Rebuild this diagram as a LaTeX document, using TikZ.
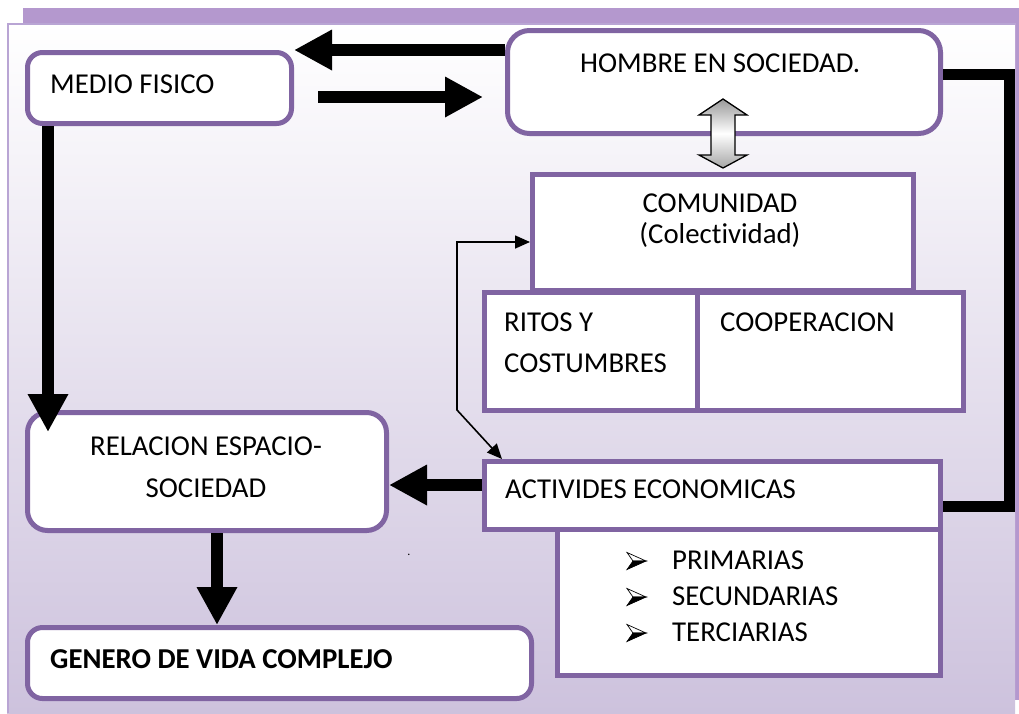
\documentclass[tikz,border=0pt]{standalone}
\usepackage{fontspec}
\setmainfont{Carlito}[Ligatures={NoCommon,NoContextual},Contextuals=NoAlternate]
\usetikzlibrary{arrows.meta,calc}
\definecolor{boxpurple}{RGB}{128,100,162}
\definecolor{barpurple}{RGB}{180,152,206}
\definecolor{bgbot}{RGB}{205,194,221}
\definecolor{framepurple}{RGB}{185,165,212}
\begin{document}
\begin{tikzpicture}[x=1pt,y=-1pt,
  rbox/.style={draw=boxpurple, line width=5pt, fill=white, inner sep=0pt, anchor=north west, rounded corners=18pt},
  sbox/.style={draw=boxpurple, line width=5pt, fill=white, inner sep=0pt, anchor=north west},
  txt/.style={font=\fontsize{28.8}{34}\selectfont, inner sep=0pt},
  blk/.style={line width=12pt, line cap=butt, -{Triangle[width=38pt,length=38pt]}},
  thin/.style={line width=1.6pt, {Triangle[width=13pt,length=15pt]}-{Triangle[width=13pt,length=15pt]}},
  arrbullet/.pic={
    \filldraw[fill=white, draw=black, line width=0.7pt, line join=miter] (0,-8.5) -- (19,0) -- (6,0) -- cycle;
    \filldraw[fill=black, draw=black, line width=0.7pt, line join=miter] (6,0) -- (19,0) -- (0,8.5) -- cycle;
  }
]
\useasboundingbox (0,0) rectangle (1019,713);
% frame and background
\fill[barpurple] (23,8) rectangle (1019,23);
\fill[barpurple] (1014,23) rectangle (1019,700);
\shade[top color=white, bottom color=bgbot] (7,23) rectangle (1015,713);
\draw[framepurple, line width=1.5pt] (7.75,713) -- (7.75,23.75) -- (1015,23.75);

% boxes
\node[rbox, rounded corners=15pt, minimum width=264pt, minimum height=71pt] (medio) at (25,50) {};
\node[rbox, rounded corners=22pt, minimum width=433pt, minimum height=103pt] (hombre) at (505,28) {};
\node[sbox, minimum width=381pt, minimum height=116pt] (comunidad) at (530,172) {};
\node[sbox, minimum width=213pt, minimum height=118pt] (ritos) at (482,290) {};
\node[sbox, minimum width=266pt, minimum height=118pt] (coop) at (695,290) {};
\node[rbox, rounded corners=20pt, minimum width=359pt, minimum height=118pt] (relacion) at (25,410) {};
\node[sbox, minimum width=456pt, minimum height=68pt] (activ) at (482,459) {};
\node[sbox, minimum width=383pt, minimum height=146pt] (sectores) at (555,527) {};
\node[rbox, rounded corners=15pt, minimum width=504pt, minimum height=71pt] (genero) at (25,625) {};

% texts
\node[txt, anchor=base west] (tmedio) at (50,93) {MEDIO FISICO};
\node[txt, anchor=base west] (thombre) at (580,72) {HOMBRE EN SOCIEDAD.};
\node[txt, anchor=base] (tcom) at (720,212) {COMUNIDAD};
\node[txt, anchor=base] (tcol) at (720,243) {(Colectividad)};
\node[txt, anchor=base west] (tritos) at (504,331) {RITOS Y};
\node[txt, anchor=base west] (tcost) at (504,372) {COSTUMBRES};
\node[txt, anchor=base west] (tcoop) at (720,331) {COOPERACION};
\node[txt, anchor=base] (trel) at (206,455) {RELACION ESPACIO-};
\node[txt, anchor=base] (tsoc) at (206,497) {SOCIEDAD};
\node[txt, anchor=base west] (tact) at (505,498) {ACTIVIDES ECONOMICAS};
\pic at (627,561) {arrbullet};
\node[txt, anchor=base west] (tprim) at (672,569) {PRIMARIAS};
\pic at (627,597) {arrbullet};
\node[txt, anchor=base west] (tsec) at (672,605) {SECUNDARIAS};
\pic at (627,633) {arrbullet};
\node[txt, anchor=base west] (tter) at (672,641) {TERCIARIAS};
\node[txt, font=\bfseries\fontsize{28.8}{34}\selectfont, anchor=base west] (tgen) at (50,668) {GENERO DE VIDA COMPLEJO};
\node[font=\fontsize{12}{14}\selectfont, inner sep=0pt, anchor=base] (dot) at (409,555) {.};

% block arrows
\draw[blk] (hombre.west |- 0,50) -- (medio.east |- 0,50);
\draw[blk, shorten <=24pt, shorten >=22pt] (medio.east |- 0,97) -- (hombre.west |- 0,97);
\draw[blk] (medio.south -| 48,0) -- ($(relacion.north -| 48,0)+(0,22)$);
\draw[blk] (activ.west |- 0,485) -- (relacion.east |- 0,485);
\draw[blk] (relacion.south -| 217,0) -- (genero.north -| 217,0);

% right connector
\draw[line width=11pt, line join=miter, line cap=butt] (hombre.east |- 0,74) -- (1009,74) -- (1009,506) -- (activ.east |- 0,506);

% double arrow
\begin{scope}[shift={(comunidad.north)}]
\draw[black, line width=1.3pt, shading=axis, top color=gray!80, bottom color=gray!70, middle color=white]
  (0,-73) -- (24,-57) -- (12,-57) -- (12,-17) -- (24,-17) -- (0,-4) -- (-24,-17) -- (-12,-17) -- (-12,-57) -- (-24,-57) -- cycle;
\end{scope}

% thin connector
\coordinate (tl) at (457,242);
\coordinate (bl) at (457,410);
\draw[thin] (comunidad.west |- tl) -- (tl) -- (bl) -- (activ.north -| 502,0);
\end{tikzpicture}
\end{document}
